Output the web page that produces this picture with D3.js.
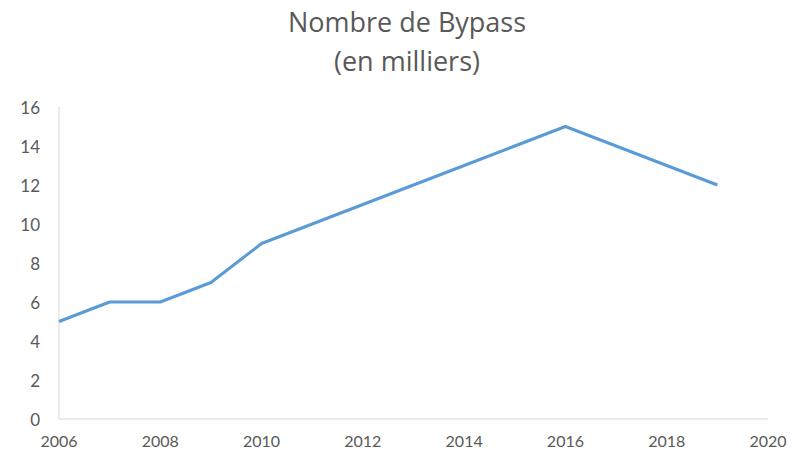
<!DOCTYPE html>
<html>
<head>
<meta charset="utf-8">
<script src="https://cdn.jsdelivr.net/npm/d3@7"></script>
<style>
  body { margin: 0; background: #fff; }
  text { font-family: Lato, 'Open Sans', sans-serif; fill: #595959; }
  .title { font-family: 'Open Sans', sans-serif; }
</style>
</head>
<body>
<div id="chart"></div>
<script>
let years = [2006, 2007, 2008, 2009, 2010, 2011, 2012, 2013, 2014, 2015, 2016, 2017, 2018, 2019]
let bypass = [5, 6, 6, 7, 9, 10, 11, 12, 13, 14, 15, 14, 13, 12]
let xTicks = [2006, 2008, 2010, 2012, 2014, 2016, 2018, 2020]
let yTicks = [0, 2, 4, 6, 8, 10, 12, 14, 16]
let titleLines = ['Nombre de Bypass', '(en milliers)']

let width = 795
let height = 451
let margin = { top: 107, left: 59, right: 27, bottom: 32 }

let svg = d3
  .select('#chart')
  .append('svg')
  .attr('width', width)
  .attr('height', height)

let x = d3.scaleLinear().domain([2006, 2020]).range([margin.left, width - margin.right])
let y = d3.scaleLinear().domain([0, 16]).range([height - margin.bottom, margin.top])

// axis lines
svg.append('line')
  .attr('x1', x(2006)).attr('x2', x(2020))
  .attr('y1', y(0)).attr('y2', y(0))
  .attr('stroke', '#d9d9d9').attr('stroke-width', 1)

svg.append('line')
  .attr('x1', x(2006)).attr('x2', x(2006))
  .attr('y1', y(0)).attr('y2', y(16))
  .attr('stroke', '#d9d9d9').attr('stroke-width', 1)

svg.append('g')
  .selectAll('text')
  .data(yTicks)
  .enter()
  .append('text')
  .attr('x', 40)
  .attr('y', d => y(d) + 1)
  .attr('dy', '0.35em')
  .attr('text-anchor', 'end')
  .attr('font-size', 17)
  .text(d => d)

svg.append('g')
  .selectAll('text')
  .data(xTicks)
  .enter()
  .append('text')
  .attr('x', d => x(d))
  .attr('y', 441)
  .attr('dy', '0.35em')
  .attr('text-anchor', 'middle')
  .attr('font-size', 16)
  .text(d => d)

let line = d3.line()
  .x((d, i) => x(years[i]))
  .y(d => y(d))

svg.append('path')
  .datum(bypass)
  .attr('d', line)
  .attr('fill', 'none')
  .attr('stroke', '#5b9bd5')
  .attr('stroke-width', 3)
  .attr('stroke-linejoin', 'round')

svg.append('g')
  .selectAll('text')
  .data(titleLines)
  .enter()
  .append('text')
  .attr('class', 'title')
  .attr('x', 407)
  .attr('y', (d, i) => 23 + i * 39)
  .attr('dy', '0.35em')
  .attr('text-anchor', 'middle')
  .attr('font-size', 27)
  .text(d => d)
</script>
</body>
</html>
